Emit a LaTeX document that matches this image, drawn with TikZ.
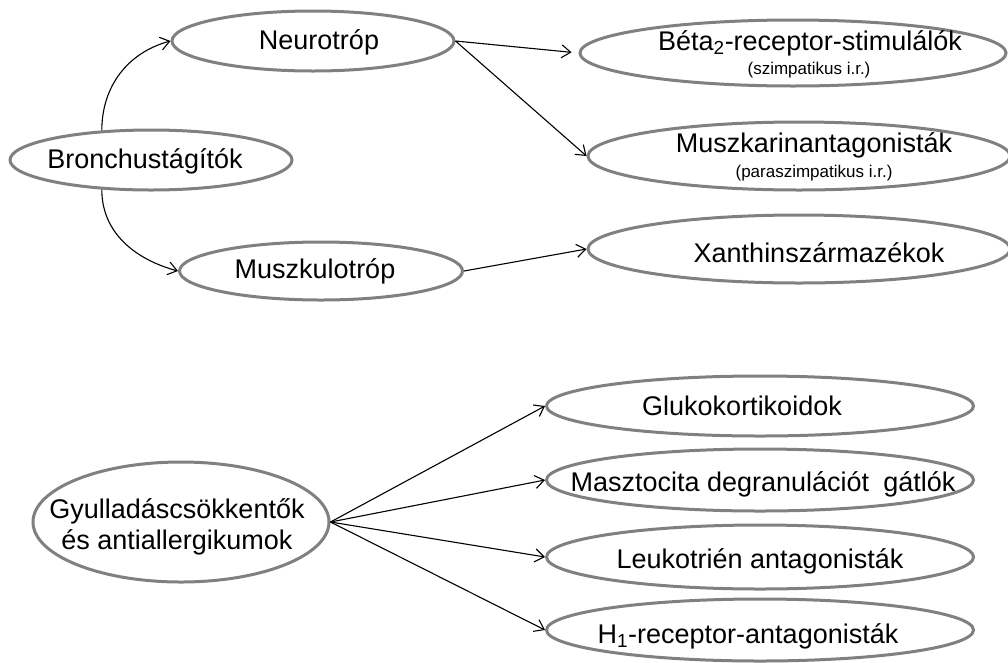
\documentclass[tikz,border=0pt]{standalone}
\usepackage{fontspec}
\setmainfont{Liberation Sans}
\usetikzlibrary{shapes.geometric,arrows.meta}
\definecolor{ellgray}{RGB}{128,128,128}
\begin{document}
\begin{tikzpicture}[x=1pt,y=-1pt,
  ell/.style={draw=ellgray, line width=3pt, ellipse, inner sep=0pt},
  txt/.style={inner sep=0pt, font=\fontsize{27}{31}\selectfont, align=center},
  sub/.style={inner sep=0pt, font=\fontsize{17}{20}\selectfont},
  arr/.style={draw=black, line width=1.1pt, -{Straight Barb[length=9pt,width=13pt,line width=1.1pt]}}]
\useasboundingbox (0,0) rectangle (1008,662);
% ellipses
\node[ell, minimum width=282pt, minimum height=60pt] (bron) at (151,160) {};
\node[ell, minimum width=282pt, minimum height=60pt] (neuro) at (313,41) {};
\node[ell, minimum width=283pt, minimum height=58pt] (muszk) at (321,271) {};
\node[ell, minimum width=426pt, minimum height=66pt] (beta) at (793,53) {};
\node[ell, minimum width=422pt, minimum height=68pt] (musca) at (799,156) {};
\node[ell, minimum width=422pt, minimum height=68pt] (xan) at (799,249) {};
\node[ell, minimum width=296pt, minimum height=120pt] (gyull) at (181,522) {};
\node[ell, minimum width=427pt, minimum height=60pt] (gluko) at (760,406) {};
\node[ell, minimum width=427pt, minimum height=62pt] (maszt) at (760,480) {};
\node[ell, minimum width=427pt, minimum height=64pt] (leuko) at (760,557) {};
\node[ell, minimum width=427pt, minimum height=62pt] (hone) at (760,630) {};
% texts
\node[txt] (bronT) at (145,161) {Bronchustágítók};
\node[txt] (neuroT) at (319,42) {Neurotróp};
\node[txt] (muszkT) at (315,271) {Muszkulotróp};
\node[txt] (betaT) at (810,43) {Béta\textsubscript{2}-receptor-stimulálók};
\node[sub] (betaS) at (809,70) {(szimpatikus i.r.)};
\node[txt] (muscaT) at (814,145) {Muszkarinantagonisták};
\node[sub] (muscaS) at (814,173) {(paraszimpatikus i.r.)};
\node[txt] (xanT) at (819,253) {Xanthinszármazékok};
\node[txt] (gyullT) at (177,527) {Gyulladáscsökkentők\\és antiallergikumok};
\node[txt] (glukoT) at (742,406) {Glukokortikoidok};
\node[txt] (masztT) at (763,484) {Masztocita degranulációt\hspace{0.25em} gátlók};
\node[txt] (leukoT) at (760,561) {Leukotrién antagonisták};
\node[txt] (honeT) at (748,636) {H\textsubscript{1}-receptor-antagonisták};
% connectors
\draw[arr] (bron.149) to[out=90,in=195] (neuro.west);
\draw[arr] (bron.211) to[out=-90,in=165] (muszk.west);
\draw[arr, shorten >=7pt] (neuro.east) -- (beta.west);
\draw[arr] (neuro.east) -- (musca.west);
\draw[arr] (muszk.east) -- (xan.west);
\draw[arr] (gyull.east) -- (gluko.west);
\draw[arr] (gyull.east) -- (maszt.west);
\draw[arr] (gyull.east) -- (leuko.west);
\draw[arr] (gyull.east) -- (hone.west);
\end{tikzpicture}
\end{document}
